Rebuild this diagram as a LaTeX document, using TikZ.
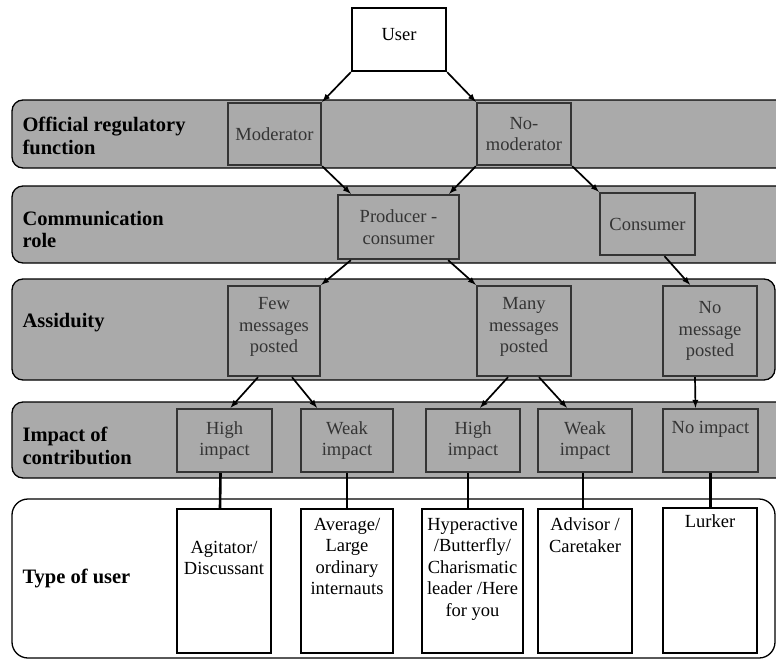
\documentclass[tikz,border=0pt]{standalone}
\usepackage{fontspec}
\setmainfont{Liberation Serif}
\usepackage{tikz}
\usetikzlibrary{positioning}
\definecolor{band_gray}{RGB}{170,170,170}
\definecolor{dark_gray}{RGB}{52,52,52}
\tikzstyle{band} = [rectangle, rounded corners=11pt, draw=black, line width=1.3pt, fill=band_gray, inner sep=0pt]
\tikzstyle{level} = [rectangle, draw=dark_gray, line width=2.4pt, fill=band_gray, text=dark_gray,
                    align=center, inner sep=1pt, font=\fontsize{18.5}{21.5}\selectfont]
\tikzstyle{whitebox} = [rectangle, draw=black, line width=2.4pt, fill=white, inner sep=0pt]
\tikzstyle{boxtext} = [align=center, inner sep=0pt, font=\fontsize{18.5}{21.5}\selectfont]
\tikzstyle{tag} = [anchor=west, align=left, inner sep=0pt, font=\bfseries\fontsize{20.5}{22.5}\selectfont]
\tikzstyle{arrow} = [line width=1.7pt, -latex]
\tikzstyle{link} = [line width=2.6pt]

\begin{document}
\begin{tikzpicture}[x=1pt, y=-1pt]

    \clip (0,0) rectangle (776,659);

    % bands
    \node[band, minimum width=790pt, minimum height=68pt] (band1) at (407,134) {};
    \node[band, minimum width=790pt, minimum height=77pt] (band2) at (407,224.5) {};
    \node[band, minimum width=763pt, minimum height=101pt] (band3) at (393.5,329.5) {};
    \node[band, minimum width=790pt, minimum height=76pt] (band4) at (407,440) {};
    \node[band, fill=white, rounded corners=16pt, minimum width=763pt, minimum height=159pt] (band5) at (393.5,578.5) {};

    \node[tag] (tag1) [right=11pt of band1.west, yshift=-2pt] {Official regulatory\\function};
    \node[tag] (tag2) [right=11pt of band2.west, yshift=-5pt] {Communication\\role};
    \node[tag] (tag3) [right=11pt of band3.west, yshift=7pt] {Assiduity};
    \node[tag] (tag4) [right=11pt of band4.west, yshift=-6pt] {Impact of\\contribution};
    \node[tag] (tag5) [right=11pt of band5.west] {Type of user};

    % top
    \node[whitebox, minimum width=94pt, minimum height=63pt] (user) at (399,39.5) {};
    \node[boxtext] (usertext) [below=21pt of user.north] {User};

    % official regulatory function
    \node[level, minimum width=93pt, minimum height=62pt] (mod) at (274.5,134) {Moderator};
    \node[level, minimum width=94pt, minimum height=62pt] (nomod) at (524,134) {No-\\moderator};

    % communication role
    \node[level, minimum width=121pt, minimum height=64pt] (prod) at (398.5,227) {Producer -\\consumer};
    \node[level, minimum width=95pt, minimum height=62pt] (cons) at (647.5,224) {Consumer};

    % assiduity
    \node[level, minimum width=92pt, minimum height=90pt] (few) at (274,331) {Few\\messages\\posted\\[-10pt]};
    \node[level, minimum width=94pt, minimum height=90pt] (many) at (524,331) {Many\\messages\\posted\\[-10pt]};
    \node[level, minimum width=94pt, minimum height=90pt] (nomsg) at (710,331) {No\\message\\posted};

    % impact of contribution
    \node[level, minimum width=95pt, minimum height=63pt] (high1) at (224.5,440.5) {High\\impact};
    \node[level, minimum width=92pt, minimum height=63pt] (weak1) at (347,440.5) {Weak\\impact};
    \node[level, minimum width=94pt, minimum height=63pt] (high2) at (473,440.5) {High\\impact};
    \node[level, minimum width=94pt, minimum height=63pt] (weak2) at (585,440.5) {Weak\\impact};
    \node[level, minimum width=95pt, minimum height=63pt] (noimp) at (710.5,440.5) {No impact\\[4pt]};

    % type of user
    \node[whitebox, minimum width=94pt, minimum height=144pt] (agit) at (224,581) {};
    \node[whitebox, minimum width=92pt, minimum height=144pt] (avg) at (347,581) {};
    \node[whitebox, minimum width=101pt, minimum height=144pt] (hyper) at (472.5,581) {};
    \node[whitebox, minimum width=94pt, minimum height=144pt] (advis) at (585,581) {};
    \node[whitebox, minimum width=94pt, minimum height=145pt] (lurk) at (710,580.5) {};

    \node[boxtext] (agittext) [below=33pt of agit.north] {Agitator/\\Discussant};
    \node[boxtext] (avgtext) [below=10pt of avg.north] {Average/\\Large\\ordinary\\internauts};
    \node[boxtext] (hypertext) [below=10pt of hyper.north] {Hyperactive\\/Butterfly/\\Charismatic\\leader /Here\\for you};
    \node[boxtext] (advistext) [below=10pt of advis.north] {Advisor /\\Caretaker};
    \node[boxtext] (lurktext) [below=8pt of lurk.north] {Lurker};

    % arrows
    \draw[arrow] (user.south west) to (mod.north east);
    \draw[arrow] (user.south east) to (nomod.north west);
    \draw[arrow] (mod.south east) to ([xshift=14pt]prod.north west);
    \draw[arrow] (nomod.south west) to ([xshift=-11pt]prod.north east);
    \draw[arrow] (nomod.south east) to (cons.north west);
    \draw[arrow] ([xshift=14pt]prod.south west) to (few.north east);
    \draw[arrow] ([xshift=-12pt]prod.south east) to (many.north west);
    \draw[arrow] ([xshift=17pt]cons.south) to ([xshift=-20pt]nomsg.north);
    \draw[arrow] ([xshift=-16pt]few.south) to ([xshift=6pt]high1.north);
    \draw[arrow] ([xshift=18pt]few.south) to ([xshift=-30pt]weak1.north);
    \draw[arrow] ([xshift=-16pt]many.south) to ([xshift=7pt]high2.north);
    \draw[arrow] ([xshift=15pt]many.south) to ([xshift=-18pt]weak2.north);
    \draw[arrow] ([xshift=-15pt]nomsg.south) to ([xshift=-15pt]noimp.north);

    \draw[link] ([xshift=-4pt]high1.south) to ([xshift=-4pt]agit.north);
    \draw[link] (weak1.south) to (avg.north);
    \draw[link] ([xshift=-5pt]high2.south) to ([xshift=-4.5pt]hyper.north);
    \draw[link] ([xshift=-2pt]weak2.south) to ([xshift=-2pt]advis.north);
    \draw[link] (noimp.south) to ([xshift=0.5pt]lurk.north);

\end{tikzpicture}
\end{document}
